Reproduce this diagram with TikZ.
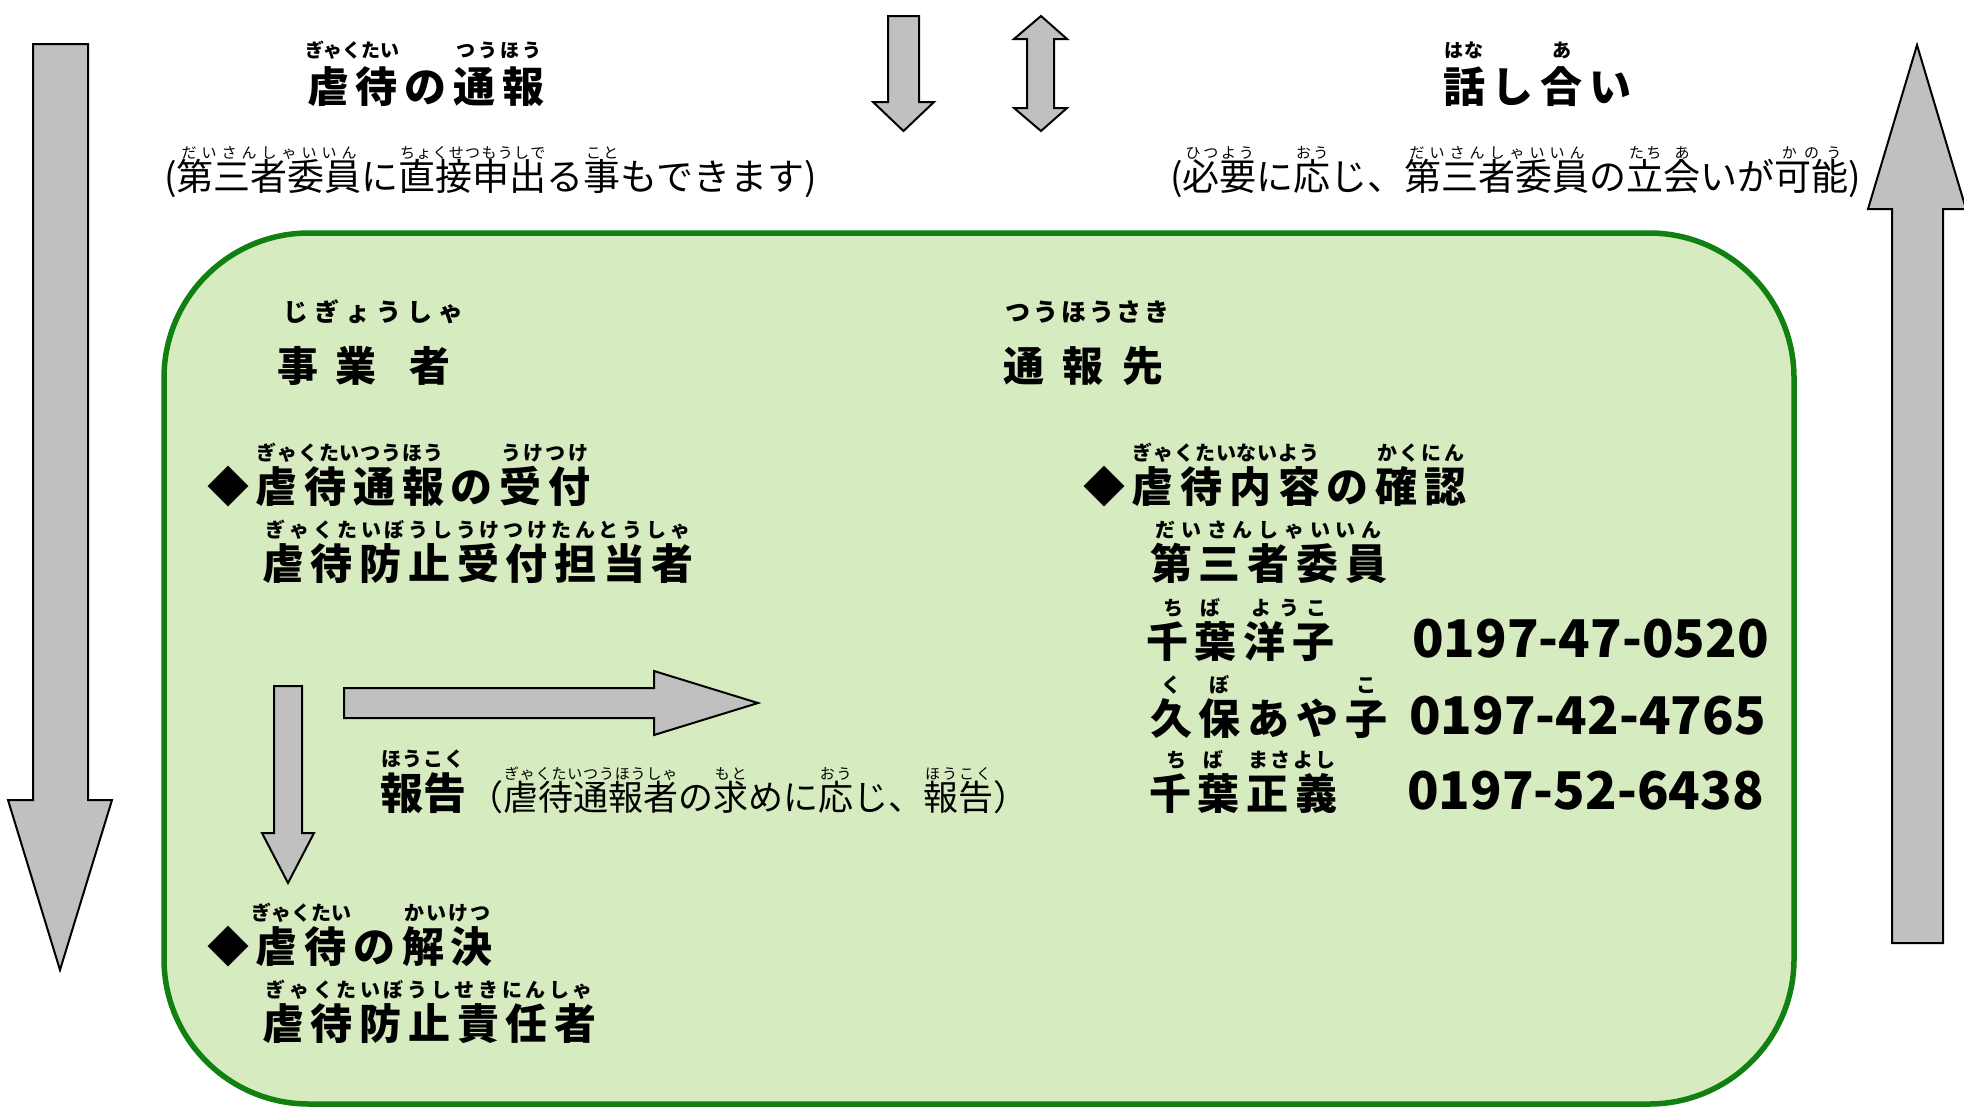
\documentclass[tikz,border=0pt]{standalone}
\usepackage{fontspec}
\usepackage{xcolor}
\setmainfont{Noto Sans CJK JP}
\newfontfamily\jp{Noto Sans CJK JP}
\newfontfamily\jpwide{Noto Sans CJK JP}[LetterSpace=16]

\definecolor{boxgreen}{RGB}{215,235,192}
\definecolor{framegreen}{RGB}{16,128,16}
\definecolor{arrowgray}{RGB}{192,192,192}

\newcommand{\rbfont}{}
\newcommand{\rblift}{1em}
\newcommand{\rbgap}{0pt}
\def\rbspread#1{\ifx\relax#1\else\hfil#1\expandafter\rbspread\fi}
\newcommand{\rb}[2]{%
	\setbox0=\hbox{#1}%
	\setbox2=\hbox{\rbfont #2}%
	\ifdim\wd2<\wd0 \setbox2=\hbox to\wd0{\rbfont\rbspread#2\relax\hfil}\fi
	\leavevmode\rlap{\hbox to\wd0{\hss\raisebox{\rblift}{\box2}\hss}}\box0\kern\rbgap}

\tikzset{
	blockarrow/.style={draw=black, fill=arrowgray, line width=2pt, line join=miter},
	frame/.style={draw=framegreen, fill=boxgreen, line width=5.5pt, rounded corners=145pt},
	txt/.style={inner sep=0pt, anchor=base west},
	heading/.style={txt, font=\jpwide\bfseries\fontsize{42}{42}\selectfont,
		execute at begin node={\def\rbfont{\jp\bfseries\fontsize{19}{19}\selectfont}\def\rblift{1.07em}\def\rbgap{0.16em}}},
	note/.style={txt, font=\jp\fontsize{37}{37}\selectfont,
		execute at begin node={\def\rbfont{\jp\fontsize{15}{15}\selectfont}\def\rblift{0.84em}}},
	subnote/.style={txt, font=\jp\fontsize{35}{35}\selectfont,
		execute at begin node={\def\rbfont{\jp\fontsize{15}{15}\selectfont}\def\rblift{0.86em}}},
	title/.style={txt, font=\jp\bfseries\fontsize{41}{41}\selectfont,
		execute at begin node={\def\rbfont{\jp\bfseries\fontsize{25}{25}\selectfont}\def\rblift{1.45em}}},
	item/.style={txt, font=\jpwide\bfseries\fontsize{42}{42}\selectfont,
		execute at begin node={\def\rbfont{\jp\bfseries\fontsize{20}{20}\selectfont}\def\rblift{1em}\def\rbgap{0.16em}}},
	tight/.style={txt, font=\jp\bfseries\fontsize{43}{43}\selectfont,
		execute at begin node={\def\rbfont{\jp\bfseries\fontsize{20}{20}\selectfont}\def\rblift{1em}}},
	tel/.style={txt, font=\jp\bfseries\fontsize{52}{52}\selectfont}
}

\begin{document}
\begin{tikzpicture}[x=1pt, y=-1pt]
	\useasboundingbox (0,0) rectangle (1964,1109);
	\draw[blockarrow] (33,44) -- (88,44) -- (88,800) -- (112,800) -- (60,970) -- (8,800) -- (33,800) -- cycle;
	\draw[blockarrow] (1892,943) -- (1943,943) -- (1943,209) -- (1966,209) -- (1917,45) -- (1868,209) -- (1892,209) -- cycle;
	\draw[blockarrow] (888,16) -- (919,16) -- (919,102) -- (934,102) -- (903.5,131) -- (873,102) -- (888,102) -- cycle;
	\draw[blockarrow] (1041,16) -- (1067,39) -- (1054,39) -- (1054,108) -- (1067,108) -- (1041,131) -- (1014,108) -- (1027,108) -- (1027,39) -- (1014,39) -- cycle;

	\node[heading] (tsuho) at (307,102) {\rb{虐待}{ぎゃくたい}\rb{の}{}\rb{通報}{つうほう}};
	\node[note] (tsuhonote) at (164,190) {(\rb{第三者委員}{だいさんしゃいいん}に\rb{直接申出}{ちょくせつもうしで}る\rb{事}{こと}もできます)};
	\node[heading] (hanashi) at (1443,102) {\rb{話}{はな}\rb{し}{}\rb{合}{あ}\rb{い}{}};
	\node[note] (hanashinote) at (1170,190) {(\rb{必要}{ひつよう}に\rb{応}{おう}じ、\rb{第三者委員}{だいさんしゃいいん}の\rb{立}{たち}\rb{会}{あ}いが\rb{可能}{かのう})};

	\draw[frame] (164,233) rectangle (1794,1104);

	\node[title] (jigyo) at (277,381) {\rb{事\hspace{17pt}業\hspace{33pt}者\hspace{19pt}}{じぎょうしゃ}};
	\node[title] (saki) at (1003,381) {\rb{通\hspace{18pt}報\hspace{19pt}先\hspace{9pt}}{つうほうさき}};

	\node[item] (uketsuke) at (207,502) {\rb{◆}{}\rb{虐待通報}{ぎゃくたいつうほう}\rb{の}{}\rb{受付}{うけつけ}};
	\node[item] (tanto) at (262,579) {\rb{虐待防止受付担当者}{ぎゃくたいぼうしうけつけたんとうしゃ}};
	\node[item] (kakunin) at (1083,502) {\rb{◆}{}\rb{虐待内容}{ぎゃくたいないよう}\rb{の}{}\rb{確認}{かくにん}};
	\node[item] (iin) at (1150,579) {\rb{第三者委員}{だいさんしゃいいん}};
	\node[item] (chiba) at (1146,657) {\rb{千葉}{ちば}\rb{洋子}{ようこ}};
	\node[tel] (chibatel) at (1412,657) {0197-47-0520};
	\node[item] (kubo) at (1150,734) {\rb{久}{く}\rb{保}{ぼ}\rb{あや}{}\rb{子}{こ}};
	\node[tel] (kubotel) at (1409,734) {0197-42-4765};
	\node[item] (masayoshi) at (1149,809) {\rb{千葉}{ちば}\rb{正義}{まさよし}};
	\node[tel] (masayoshitel) at (1407,809) {0197-52-6438};

	\draw[blockarrow] (274,686) -- (302,686) -- (302,833) -- (314,833) -- (288,883) -- (262,833) -- (274,833) -- cycle;
	\draw[blockarrow] (344,688) -- (654,688) -- (654,671) -- (758,703) -- (654,735) -- (654,718) -- (344,718) -- cycle;

	\node[tight] (hokoku) at (380,809) {\rb{報告}{ほうこく}};
	\node[subnote] (hokokunote) at (468,810) {（\rb{虐待通報者}{ぎゃくたいつうほうしゃ}の\rb{求}{もと}めに\rb{応}{おう}じ、\rb{報告}{ほうこく}）};

	\node[item] (kaiketsu) at (207,962) {\rb{◆}{}\rb{虐待}{ぎゃくたい}\rb{の}{}\rb{解決}{かいけつ}};
	\node[item] (sekinin) at (262,1039) {\rb{虐待防止責任者}{ぎゃくたいぼうしせきにんしゃ}};
\end{tikzpicture}
\end{document}
